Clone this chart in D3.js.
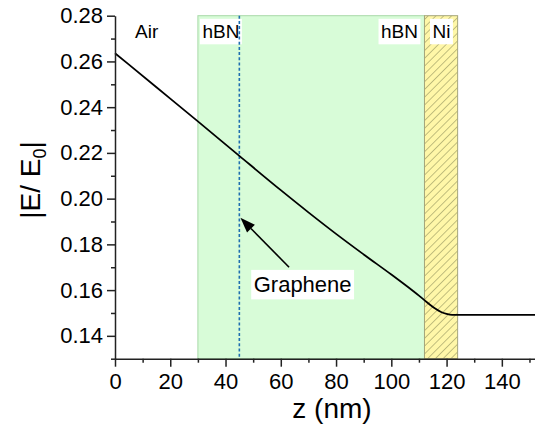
<!DOCTYPE html>
<html>
<head>
<meta charset="utf-8">
<script src="https://cdn.jsdelivr.net/npm/d3@7"></script>
<style>
  body { margin: 0; background: #fff; }
  svg { display: block; font-family: Arial, "Liberation Sans", sans-serif; }
</style>
</head>
<body>
<div id="chart"></div>
<script>
// Field profile |E/E0| versus depth z (nm)
const zNm = [0, 15, 30, 45, 60, 70, 80, 90, 100, 104, 108, 110, 112, 114, 116, 118, 120, 122, 124, 152];
const fieldRatio = [0.2636, 0.2487, 0.2338, 0.2187, 0.2037, 0.1940, 0.1846, 0.1756, 0.1668, 0.1632,
                    0.1595, 0.1576, 0.1556, 0.1536, 0.1518, 0.1504, 0.1496, 0.1492, 0.1492, 0.1492];

// Layers (nm)
const hbnLayer = [30, 112];
const niLayer = [112, 124];
const grapheneZ = 45;

const xTicks = [0, 20, 40, 60, 80, 100, 120, 140];
const xMinor = [10, 30, 50, 70, 90, 110, 130, 150];
const yTicks = [0.14, 0.16, 0.18, 0.20, 0.22, 0.24, 0.26, 0.28];
const yMinor = [0.13, 0.15, 0.17, 0.19, 0.21, 0.23, 0.25, 0.27];

const width = 535, height = 429;
const svg = d3.select("#chart").append("svg")
              .attr("width", width)
              .attr("height", height);

const x = d3.scaleLinear().domain([0, 152]).range([115, 535]);
const y = d3.scaleLinear().domain([0.13, 0.28]).range([358.7, 15.7]);

// hatch pattern for Ni
const defs = svg.append("defs");
defs.append("pattern")
    .attr("id", "hatch")
    .attr("patternUnits", "userSpaceOnUse")
    .attr("width", 5.5)
    .attr("height", 5.5)
    .attr("patternTransform", "rotate(45)")
    .call(p => {
      p.append("rect").attr("width", 5.5).attr("height", 5.5).attr("fill", "#fff7a8");
      p.append("line").attr("x1", 0).attr("y1", 0).attr("x2", 0).attr("y2", 5.5)
          .attr("stroke", "#8f8f5a").attr("stroke-width", 1.1);
    });

// hBN region
svg.append("rect")
    .attr("x", x(hbnLayer[0]))
    .attr("y", y(0.28))
    .attr("width", x(hbnLayer[1]) - x(hbnLayer[0]))
    .attr("height", y(0.13) - y(0.28))
    .attr("fill", "#d8fcd8")
    .attr("stroke", "#a9d9a9")
    .attr("stroke-width", 1);

// Ni region
svg.append("rect")
    .attr("x", x(niLayer[0]))
    .attr("y", y(0.28))
    .attr("width", x(niLayer[1]) - x(niLayer[0]))
    .attr("height", y(0.13) - y(0.28))
    .attr("fill", "url(#hatch)")
    .attr("stroke", "#a5a57a")
    .attr("stroke-width", 1);

// labels with white boxes
function boxedLabel(text, px, baseline, size, anchor, boxed) {
  const g = svg.append("g");
  const t = g.append("text")
              .attr("x", px)
              .attr("y", baseline)
              .attr("font-size", size)
              .attr("text-anchor", anchor)
              .attr("fill", "#000")
              .text(text);
  if (boxed) {
    const b = t.node().getBBox();
    g.insert("rect", "text")
        .attr("x", b.x - 2.5)
        .attr("y", b.y - 2.5)
        .attr("width", b.width + 5)
        .attr("height", b.height + 4.5)
        .attr("fill", "#fff");
  }
}

boxedLabel("Air", 135, 38.3, 19, "start", false);
boxedLabel("hBN", x(hbnLayer[0]) + 4.5, 38.3, 19, "start", true);
boxedLabel("hBN", x(hbnLayer[1]) - 6.5, 38.3, 19, "end", true);
boxedLabel("Ni", x(niLayer[0]) + 8, 38.3, 19, "start", true);

// graphene dashed line
svg.append("line")
    .attr("x1", x(grapheneZ))
    .attr("x2", x(grapheneZ))
    .attr("y1", y(0.28))
    .attr("y2", y(0.13))
    .attr("stroke", "#1f6fb0")
    .attr("stroke-width", 1.6)
    .attr("stroke-dasharray", "3,2.2");

// field curve
const line = d3.line()
                .x((d, i) => x(zNm[i]))
                .y(d => y(d))
                .curve(d3.curveMonotoneX);

svg.append("path")
    .datum(fieldRatio)
    .attr("d", line)
    .attr("fill", "none")
    .attr("stroke", "#000")
    .attr("stroke-width", 1.8);

// Graphene annotation
boxedLabel("Graphene", x(50.2), y(0.159), 22, "start", true);

const tip = [x(45.4), y(0.1916)];
const tail = [x(63.0), y(0.170)];
const ang = Math.atan2(tip[1] - tail[1], tip[0] - tail[0]);
const headLen = 15, headW = 5.5;
const base = [tip[0] - headLen * Math.cos(ang), tip[1] - headLen * Math.sin(ang)];
svg.append("line")
    .attr("x1", tail[0]).attr("y1", tail[1])
    .attr("x2", base[0]).attr("y2", base[1])
    .attr("stroke", "#000")
    .attr("stroke-width", 1.6);
svg.append("polygon")
    .attr("points", [
      tip,
      [base[0] + headW * Math.sin(ang), base[1] - headW * Math.cos(ang)],
      [base[0] - headW * Math.sin(ang), base[1] + headW * Math.cos(ang)]
    ].map(p => p.join(",")).join(" "))
    .attr("fill", "#000");

// axes
const axisColor = "#222";

svg.append("g")
    .attr("transform", `translate(0,${y(0.13)})`)
    .call(d3.axisBottom(x).tickValues(xTicks).tickSize(8).tickSizeOuter(0).tickPadding(7));
svg.append("g")
    .attr("transform", `translate(0,${y(0.13)})`)
    .call(d3.axisBottom(x).tickValues(xMinor).tickSize(4).tickFormat(""))
    .call(g => g.select(".domain").remove());

svg.append("g")
    .attr("transform", `translate(${x(0)},0)`)
    .call(d3.axisLeft(y).tickValues(yTicks).tickSize(8).tickSizeOuter(0).tickPadding(4)
              .tickFormat(d3.format(".2f")));
svg.append("g")
    .attr("transform", `translate(${x(0)},0)`)
    .call(d3.axisLeft(y).tickValues(yMinor).tickSize(4).tickFormat(""))
    .call(g => g.select(".domain").remove());

svg.selectAll(".tick line, .domain")
    .attr("stroke", axisColor)
    .attr("stroke-width", 1.5);
svg.selectAll(".tick text")
    .attr("font-size", 22)
    .attr("font-family", "Arial, 'Liberation Sans', sans-serif")
    .attr("fill", "#000");

// axis titles
svg.append("text")
    .attr("x", 332)
    .attr("y", 418)
    .attr("text-anchor", "middle")
    .attr("font-size", 28)
    .attr("fill", "#000")
    .text("z (nm)");

const yt = svg.append("text")
    .attr("transform", "translate(40,180) rotate(-90)")
    .attr("text-anchor", "middle")
    .attr("font-size", 28)
    .attr("fill", "#000");
yt.append("tspan").text("|E/ E");
yt.append("tspan").attr("font-size", 18).attr("dy", 6).text("0");
yt.append("tspan").attr("dy", -6).text("|");
</script>
</body>
</html>
